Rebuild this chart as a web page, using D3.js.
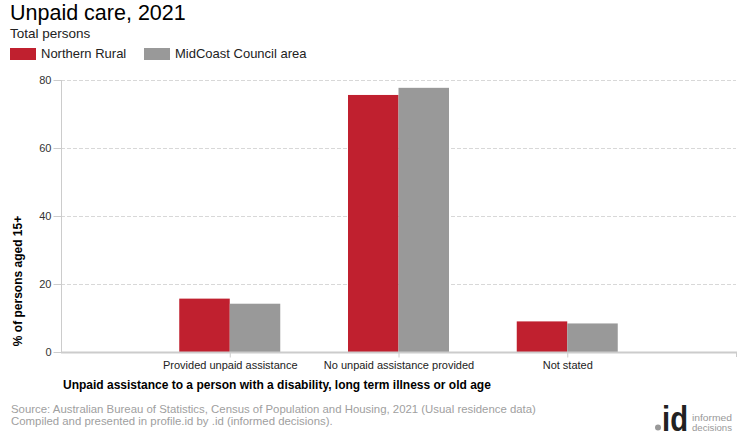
<!DOCTYPE html>
<html>
<head>
<meta charset="utf-8">
<script src="https://cdn.jsdelivr.net/npm/d3@7"></script>
<style>
  body { margin: 0; background: #fff; }
  svg { display: block; font-family: Arial, "Liberation Sans", sans-serif; }
</style>
</head>
<body>
<svg id="chart" width="740" height="440"></svg>
<script>
const categories = ["Provided unpaid assistance", "No unpaid assistance provided", "Not stated"];
const seriesNames = ["Northern Rural", "MidCoast Council area"];
const northernRural = [15.7, 75.6, 9.0];
const midCoast = [14.2, 77.7, 8.4];
const yTicks = [0, 20, 40, 60, 80];
const colors = ["#c0202f", "#999999"];

const svg = d3.select("#chart");
const plotLeft = 61, plotRight = 736, plotTop = 80, plotBottom = 352;

const x = d3.scalePoint().domain(["_s", ...categories, "_e"]).range([plotLeft, plotRight]);
const bar = d3.scaleBand().domain(seriesNames).range([-50.5, 50.5]).padding(0);
const y = d3.scaleLinear().domain([0, 80]).range([plotBottom, plotTop]);

// gridlines
svg.append("g").selectAll("line").data(yTicks.filter(d => d > 0)).join("line")
  .attr("x1", plotLeft).attr("x2", plotRight)
  .attr("y1", d => Math.round(y(d)) + 0.5).attr("y2", d => Math.round(y(d)) + 0.5)
  .attr("stroke", "#d8d8d8").attr("stroke-dasharray", "4,2");

// y axis
const yAxis = svg.append("g").attr("transform", `translate(${plotLeft + 0.5},0)`)
  .call(d3.axisLeft(y).tickValues(yTicks).tickSize(8).tickPadding(2));
yAxis.select(".domain").attr("stroke", "#cccccc").attr("d", `M0,${plotTop}V${plotBottom}`);
yAxis.selectAll(".tick line").attr("stroke", "#cccccc");
yAxis.selectAll(".tick text").attr("fill", "#333").attr("font-size", 11).attr("font-family", "Arial, 'Liberation Sans', sans-serif");

// bars
const data = [northernRural, midCoast];
seriesNames.forEach((s, si) => {
  svg.append("g").selectAll("rect").data(categories).join("rect")
    .attr("x", c => x(c) + bar(s))
    .attr("width", bar.bandwidth())
    .attr("y", (c, i) => y(data[si][i]))
    .attr("height", (c, i) => y(0) - y(data[si][i]))
    .attr("fill", colors[si]);
});

// x axis
const xAxis = svg.append("g").attr("transform", `translate(0,${plotBottom + 0.5})`)
  .call(d3.axisBottom(x).tickValues(categories).tickSize(5).tickPadding(4));
xAxis.select(".domain").attr("stroke", "#cccccc").attr("stroke-width", 2).attr("d", `M${plotLeft},0H${plotRight + 1}`);
xAxis.selectAll(".tick line").attr("stroke", "#cccccc");
xAxis.selectAll(".tick text").attr("fill", "#222").attr("font-size", 11).attr("font-family", "Arial, 'Liberation Sans', sans-serif");
svg.append("line").attr("x1", plotRight + 0.5).attr("x2", plotRight + 0.5).attr("y1", plotBottom).attr("y2", plotBottom + 5).attr("stroke", "#cccccc");

// titles
svg.append("text").attr("x", 10).attr("y", 20).attr("font-size", 21.5).attr("fill", "#000").text("Unpaid care, 2021");
svg.append("text").attr("x", 10).attr("y", 38).attr("font-size", 13.5).attr("fill", "#222").text("Total persons");

// legend
const legendX = [10, 144];
seriesNames.forEach((s, i) => {
  svg.append("rect").attr("x", legendX[i]).attr("y", 48).attr("width", 26).attr("height", 12).attr("fill", colors[i]);
  svg.append("text").attr("x", legendX[i] + 31).attr("y", 58).attr("font-size", 13).attr("fill", "#222").text(s);
});

// axis titles
svg.append("text").attr("transform", "translate(22,281) rotate(-90)").attr("text-anchor", "middle")
  .attr("font-size", 12).attr("font-weight", "bold").attr("fill", "#000").text("% of persons aged 15+");
svg.append("text").attr("x", 63).attr("y", 389).attr("font-size", 12).attr("font-weight", "bold").attr("fill", "#000")
  .text("Unpaid assistance to a person with a disability, long term illness or old age");

// source
svg.append("text").attr("x", 11).attr("y", 413).attr("font-size", 11.4).attr("fill", "#a0a0a0")
  .text("Source: Australian Bureau of Statistics, Census of Population and Housing, 2021 (Usual residence data)");
svg.append("text").attr("x", 11).attr("y", 425).attr("font-size", 11.4).attr("fill", "#a0a0a0")
  .text("Compiled and presented in profile.id by .id (informed decisions).");

// logo
svg.append("circle").attr("cx", 658).attr("cy", 427.5).attr("r", 3).attr("fill", "#999");
svg.append("text").attr("x", 662).attr("y", 431).attr("font-size", 35).attr("font-weight", "bold").attr("fill", "#222")
  .attr("textLength", 26).attr("lengthAdjust", "spacingAndGlyphs").text("id");
svg.append("text").attr("x", 692).attr("y", 420.5).attr("font-size", 9).attr("fill", "#999")
  .attr("textLength", 40).attr("lengthAdjust", "spacingAndGlyphs").text("informed");
svg.append("text").attr("x", 692).attr("y", 431).attr("font-size", 9).attr("fill", "#999")
  .attr("textLength", 40).attr("lengthAdjust", "spacingAndGlyphs").text("decisions");
</script>
</body>
</html>
